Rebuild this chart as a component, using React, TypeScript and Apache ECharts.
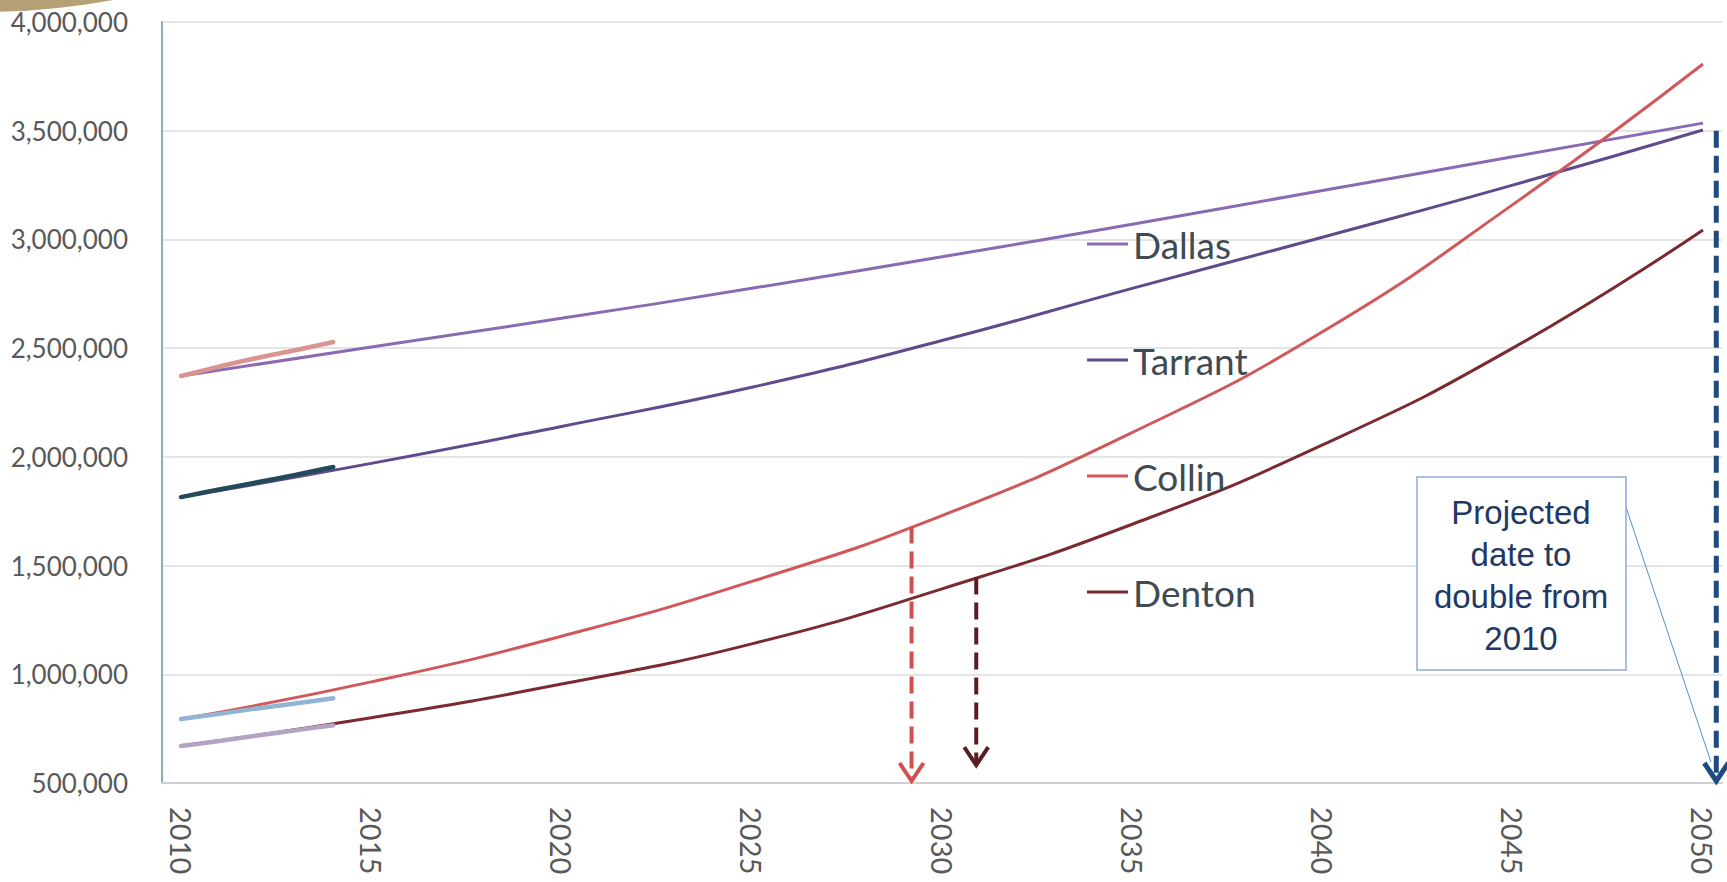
import React, { useEffect, useRef } from "react";
import * as echarts from "echarts";

// ---- data ----
const PROJ_YEARS = [2010, 2015, 2020, 2025, 2030, 2035, 2040, 2045, 2050];
const DALLAS = [2372000, 2505000, 2637000, 2775000, 2920000, 3070000, 3225000, 3380000, 3535000];
const TARRANT = [1815000, 1970000, 2140000, 2320000, 2535000, 2775000, 3010000, 3250000, 3503000];
const COLLIN = [794000, 965000, 1175000, 1427000, 1730000, 2112000, 2575000, 3160000, 3807000];
const DENTON = [670000, 800000, 955000, 1140000, 1393000, 1690000, 2055000, 2500000, 3043000];

const ACT_YEARS = [2010, 2011, 2012, 2013, 2014];
const DALLAS_ACT = [2372000, 2415000, 2455000, 2490000, 2528000];
const TARRANT_ACT = [1815000, 1850000, 1883000, 1917000, 1953000];
const COLLIN_ACT = [794000, 818000, 843000, 866000, 890000];
const DENTON_ACT = [670000, 693000, 718000, 742000, 766000];

const X_TICKS = [2010, 2015, 2020, 2025, 2030, 2035, 2040, 2045, 2050];
const LEGEND_NAMES = ["Dallas", "Tarrant", "Collin", "Denton"];

// doubling arrows: year, top value, bottom value
const ARROW_YEARS = [2029.2, 2030.9, 2050.35];
const ARROW_TOPS = [1680000, 1445000, 3500000];
const ARROW_BOTTOMS = [500000, 573000, 500000];
const ARROW_COLORS = ["#d24f50", "#5a1d22", "#1f4a7e"];
const ARROW_WIDTHS = [4, 4, 5];

const NOTE_TEXT = "Projected\ndate to\ndouble from\n2010";

export default function App() {
  const ref = useRef<HTMLDivElement>(null);

  useEffect(() => {
    const chart = echarts.init(ref.current as HTMLDivElement, null, { renderer: "svg" });
    const pair = (xs: number[], ys: number[]) => xs.map((x, i) => [x, ys[i]]);
    const arrowData = ARROW_YEARS.map((x, i) => [x, ARROW_TOPS[i], ARROW_BOTTOMS[i]]);

    const proj = (name: string, ys: number[], color: string) => ({
      name,
      type: "line",
      data: pair(PROJ_YEARS, ys),
      smooth: 0.5,
      showSymbol: false,
      symbol: "none",
      color,
      lineStyle: { color, width: 3 },
      z: 2,
    });
    const act = (name: string, ys: number[], color: string) => ({
      name,
      type: "line",
      data: pair(ACT_YEARS, ys),
      smooth: 0.3,
      showSymbol: false,
      symbol: "none",
      color,
      lineStyle: { color, width: 4.5, cap: "round" },
      z: 3,
    });

    chart.setOption({
      animation: false,
      textStyle: { fontFamily: "Lato" },
      grid: { left: 162, right: 5, top: 22, bottom: 99 },
      xAxis: {
        type: "value",
        min: 2009.5,
        max: 2050.5,
        axisLine: { show: true, onZero: false, lineStyle: { color: "#cfcfcf", width: 2 } },
        axisTick: { show: false },
        splitLine: { show: false },
        axisLabel: {
          customValues: X_TICKS,
          rotate: -90,
          margin: 24,
          fontSize: 29,
          color: "#595959",
          fontFamily: "Lato",
          formatter: (v: number) => String(v),
        },
      },
      yAxis: {
        type: "value",
        min: 500000,
        max: 4000000,
        interval: 500000,
        axisLine: { show: true, lineStyle: { color: "#84b1bd", width: 2 } },
        axisTick: { show: false },
        splitLine: { lineStyle: { color: "#dcdcdc", width: 1.5 } },
        axisLabel: {
          margin: 34,
          fontSize: 26,
          color: "#595959",
          fontFamily: "Lato",
          formatter: (v: number) => v.toLocaleString("en-US"),
        },
      },
      legend: {
        data: LEGEND_NAMES,
        orient: "vertical",
        left: 1082,
        top: 219,
        itemWidth: 41,
        itemHeight: 3,
        itemGap: 76,
        icon: "rect",
        selectedMode: false,
        textStyle: { fontSize: 37, color: "#404a52", fontFamily: "Lato", lineHeight: 40 },
      },
      series: [
        proj("Dallas", DALLAS, "#8a6bb3"),
        proj("Tarrant", TARRANT, "#5f4a8c"),
        proj("Collin", COLLIN, "#d0585a"),
        proj("Denton", DENTON, "#7a2a30"),
        act("Dallas 2010-2014", DALLAS_ACT, "#d9948f"),
        act("Tarrant 2010-2014", TARRANT_ACT, "#234a5a"),
        act("Collin 2010-2014", COLLIN_ACT, "#8fb4d4"),
        act("Denton 2010-2014", DENTON_ACT, "#b3a2c4"),
        {
          name: "arrows",
          type: "custom",
          data: arrowData,
          encode: { x: 0, y: 1 },
          clip: false,
          z: 5,
          renderItem: (params: any, api: any) => {
            const i = params.dataIndex;
            const top = api.coord([api.value(0), api.value(1)]);
            const bot = api.coord([api.value(0), api.value(2)]);
            const c = ARROW_COLORS[i];
            const w = ARROW_WIDTHS[i];
            return {
              type: "group",
              children: [
                {
                  type: "line",
                  shape: { x1: top[0], y1: top[1], x2: bot[0], y2: bot[1] - 4 },
                  style: { stroke: c, lineWidth: w, lineDash: [17, 8] },
                },
                {
                  type: "polyline",
                  shape: {
                    points: [
                      [bot[0] - 12, bot[1] - 20],
                      [bot[0], bot[1] - 2],
                      [bot[0] + 12, bot[1] - 20],
                    ],
                  },
                  style: { stroke: c, lineWidth: w, fill: "none" },
                },
              ],
            };
          },
        },
      ],
      graphic: [
        {
          type: "ellipse",
          shape: { cx: -20, cy: -200, rx: 400, ry: 212 },
          style: { fill: "#b5a175" },
          z: 10,
        },
        {
          type: "line",
          shape: { x1: 1626, y1: 507, x2: 1711, y2: 762 },
          style: { stroke: "#5b8bd0", lineWidth: 1 },
          z: 10,
        },
        {
          type: "rect",
          shape: { x: 1417, y: 477, width: 209, height: 193 },
          style: { fill: "#ffffff", stroke: "#8eaad8", lineWidth: 1.5 },
          z: 10,
        },
        {
          type: "text",
          x: 1521,
          y: 575,
          style: {
            text: NOTE_TEXT,
            fill: "#1f3864",
            font: '33px "Liberation Sans"',
            align: "center",
            verticalAlign: "middle",
            lineHeight: 42,
          },
          z: 11,
        },
      ],
    });

    return () => chart.dispose();
  }, []);

  return (
    <div
      ref={ref}
      style={{ position: "absolute", left: 0, top: 0, width: 1727, height: 882 }}
    />
  );
}
